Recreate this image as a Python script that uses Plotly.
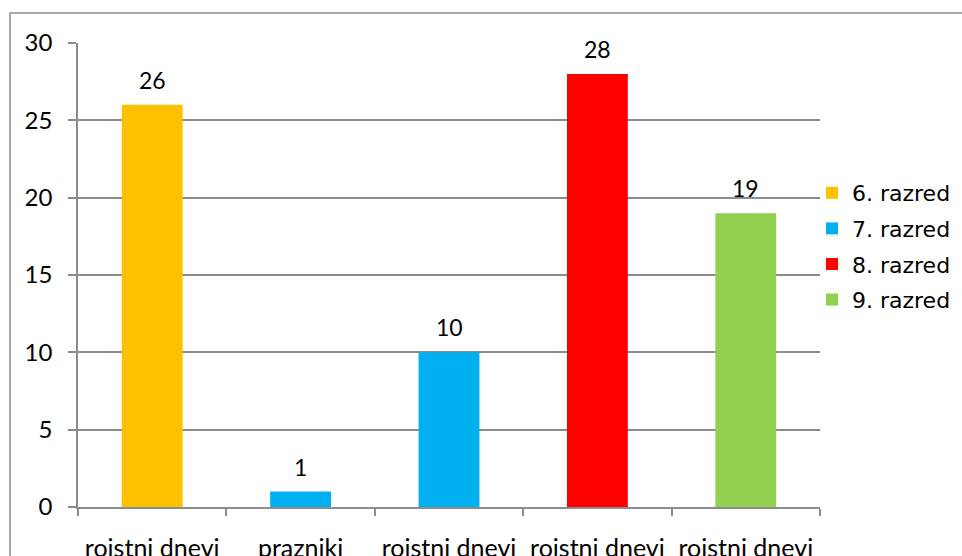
import plotly.graph_objects as go

# Data
categories = ["rojstni dnevi", "prazniki", "rojstni dnevi", "rojstni dnevi", "rojstni dnevi"]
values = [26, 1, 10, 28, 19]
groups = ["6. razred", "7. razred", "7. razred", "8. razred", "9. razred"]
series_names = ["6. razred", "7. razred", "8. razred", "9. razred"]
series_colors = ["#FFC000", "#00B0F0", "#FF0000", "#92D050"]
y_ticks = [0, 5, 10, 15, 20, 25, 30]

positions = list(range(len(categories)))
label_font = "Lato, Carlito, sans-serif"

fig = go.Figure()
for name, color in zip(series_names, series_colors):
    xs = [p for p, g in zip(positions, groups) if g == name]
    ys = [v for v, g in zip(values, groups) if g == name]
    fig.add_trace(go.Bar(
        x=xs, y=ys, name=name, width=0.41, legendgroup=name,
        marker=dict(color=color, line=dict(width=0)),
        hoverinfo="skip",
    ))

# Value labels above each bar
for p, v in zip(positions, values):
    fig.add_annotation(
        x=p, y=v, text=str(v), showarrow=False,
        yanchor="middle", yshift=25,
        font=dict(family=label_font, size=23, color="#000000"),
    )

grid_color = "#8C8C8C"
W, H = 962, 556
left, right, top, bottom = 78, 820, 43, 507
pw, ph = right - left, bottom - top

# Outer chart frame (partially outside the window)
fx = (10 - left) / pw
fy = (bottom - 13) / ph
fig.add_shape(
    type="path", xref="paper", yref="paper",
    path=f"M {fx} -2 L {fx} {fy} L 1.5 {fy}",
    line=dict(color="#8C8C8C", width=1.5),
)

fig.update_layout(
    width=W, height=H,
    margin=dict(l=left, r=W - right, t=top, b=H - bottom, pad=0, autoexpand=False),
    paper_bgcolor="white", plot_bgcolor="white",
    barmode="overlay",
    showlegend=True,
    legend=dict(
        xref="container", yref="container",
        x=812 / W, xanchor="left",
        y=1 - 172 / H, yanchor="top",
        font=dict(family="DejaVu Sans", size=22, color="#000000"),
        bgcolor="rgba(0,0,0,0)", itemwidth=30, tracegroupgap=4,
    ),
    xaxis=dict(
        range=[-0.5, len(categories) - 0.5],
        tickvals=positions, ticktext=categories,
        ticks="outside", ticklen=18, tickcolor="rgba(0,0,0,0)",
        showgrid=False, zeroline=False, automargin=False,
        showline=True, linecolor=grid_color, linewidth=1.5,
        tickfont=dict(family=label_font, size=25, color="#000000"),
        minor=dict(
            tickvals=[p - 0.5 for p in positions] + [positions[-1] + 0.5],
            ticks="outside", ticklen=7, tickcolor=grid_color, tickwidth=1.5,
            showgrid=False,
        ),
        fixedrange=True,
    ),
    yaxis=dict(
        range=[0, 30], tickvals=y_ticks,
        ticks="outside", ticklen=8, tickcolor=grid_color, tickwidth=1.5,
        ticklabelstandoff=11, automargin=False,
        showgrid=True, gridcolor=grid_color, gridwidth=1.5,
        zeroline=False,
        showline=True, linecolor=grid_color, linewidth=1.5,
        tickfont=dict(family=label_font, size=24, color="#000000"),
        fixedrange=True,
    ),
)

fig.write_html("out.html", config={"displayModeBar": False})
